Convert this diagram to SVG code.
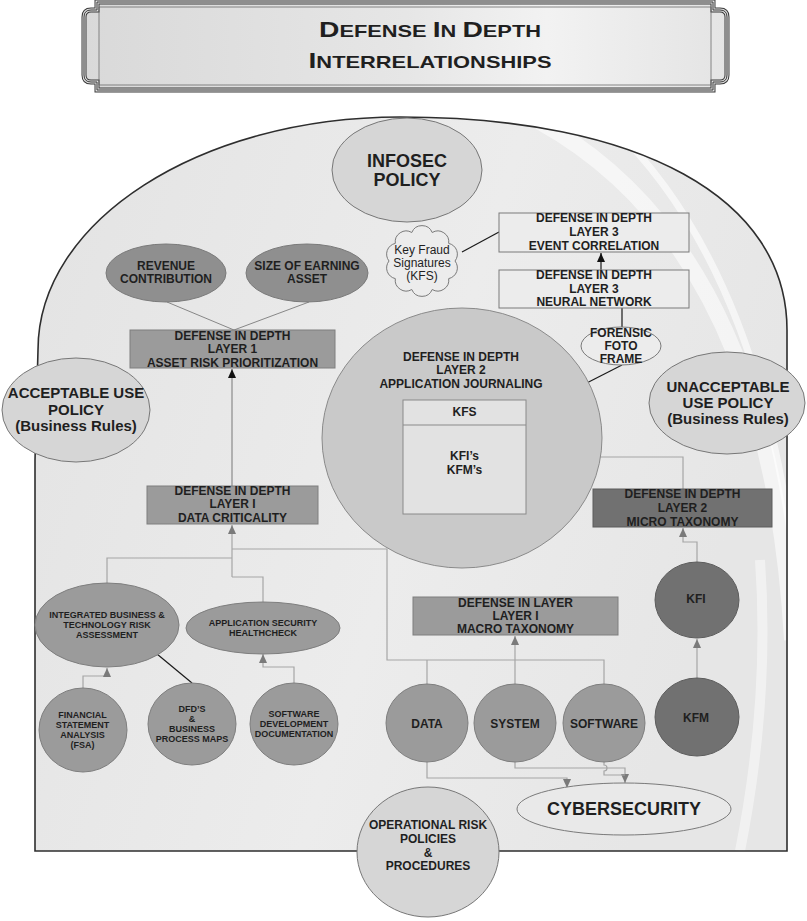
<svg xmlns="http://www.w3.org/2000/svg" width="807" height="921" viewBox="0 0 807 921">
<defs>
<style>
text { font-family: "Liberation Sans", Arial, Helvetica, sans-serif; font-weight: bold; fill: #1f1f1f; text-anchor: middle; }
.f12 { font-size: 12px; }
.f9 { font-size: 9px; }
.f15 { font-size: 15px; }
.f18 { font-size: 18px; }
.n { font-weight: normal; }
.g { fill: none; stroke: #a6a6a6; stroke-width: 1.2; }
.k { fill: none; stroke: #1a1a1a; stroke-width: 1.2; }
.thin { fill: none; stroke: #7c7c7c; stroke-width: 0.9; }
.mid { fill: #9b9b9b; stroke: #7e7e7e; stroke-width: 1; }
.midE { fill: #8f8f8f; stroke: #7a7a7a; stroke-width: 1; }
.dark { fill: #717171; stroke: #5c5c5c; stroke-width: 1; }
.light { fill: #d6d6d6; stroke: #777; stroke-width: 1; }
.pale { fill: #ececec; stroke: #7a7a7a; stroke-width: 1; }
</style>
<marker id="ag" markerWidth="9" markerHeight="8" refX="9" refY="4" orient="auto" markerUnits="userSpaceOnUse"><path d="M0,0 L9,4 L0,8 Z" fill="#7a7a7a"/></marker>
<marker id="ab" markerWidth="9" markerHeight="8" refX="9" refY="4" orient="auto" markerUnits="userSpaceOnUse"><path d="M0,0 L9,4 L0,8 Z" fill="#111"/></marker>
<linearGradient id="domeG" x1="0" y1="0" x2="1" y2="0.3">
<stop offset="0" stop-color="#e3e3e3"/>
<stop offset="0.6" stop-color="#ececec"/>
<stop offset="1" stop-color="#e6e6e6"/>
</linearGradient>
<linearGradient id="banG" x1="0" y1="0" x2="1" y2="0">
<stop offset="0" stop-color="#d9d9d9"/>
<stop offset="0.5" stop-color="#e6e6e6"/>
<stop offset="0.72" stop-color="#f2f2f2"/>
<stop offset="1" stop-color="#e4e4e4"/>
</linearGradient>
<clipPath id="domeClip"><path d="M35,851 L35,460 L38,350 C38,221 200,117 400,117 C640,117 787,198 787,330 L787,851 Z"/></clipPath>
</defs>

<g id="title-banner">
<path d="M97,2 H713 V10 H720 Q727,10 727,17 V75 Q727,82 720,82 H713 V90 H97 V82 H91 Q84,82 84,75 V17 Q84,10 91,10 H97 Z" fill="url(#banG)" stroke="#3a3a3a" stroke-width="5"/>
<path d="M97,2 H713 V10 H720 Q727,10 727,17 V75 Q727,82 720,82 H713 V90 H97 V82 H91 Q84,82 84,75 V17 Q84,10 91,10 H97 Z" fill="none" stroke="#e2e2e2" stroke-width="3"/>
<path d="M97,2 H713 V10 H720 Q727,10 727,17 V75 Q727,82 720,82 H713 V90 H97 V82 H91 Q84,82 84,75 V17 Q84,10 91,10 H97 Z" fill="none" stroke="#3a3a3a" stroke-width="1"/>
<path d="M99,7 H711 M99,85 H711 M99,7 V85 M711,7 V85" fill="none" stroke="#6a6a6a" stroke-width="0.8"/>
<text x="430" y="37" textLength="222" lengthAdjust="spacingAndGlyphs"><tspan font-size="22">D</tspan><tspan font-size="17">EFENSE </tspan><tspan font-size="22">I</tspan><tspan font-size="17">N </tspan><tspan font-size="22">D</tspan><tspan font-size="17">EPTH</tspan></text>
<text x="430" y="68" textLength="243" lengthAdjust="spacingAndGlyphs"><tspan font-size="22">I</tspan><tspan font-size="17">NTERRELATIONSHIPS</tspan></text>
</g>

<g id="dome">
<path d="M35,851 L35,460 L38,350 C38,221 200,117 400,117 C640,117 787,198 787,330 L787,851 Z" fill="url(#domeG)"/>
<g clip-path="url(#domeClip)" fill="none" stroke="#ffffff">
<path d="M540,122 Q770,250 792,640" stroke-width="16" opacity="0.55"/>
<path d="M610,124 Q795,300 805,720" stroke-width="7" opacity="0.6"/>
<path d="M760,560 Q770,700 740,851" stroke-width="10" opacity="0.45"/>
</g>
<path d="M35,851 L35,460 L38,350 C38,221 200,117 400,117 C640,117 787,198 787,330 L787,851 Z" fill="none" stroke="#2e2e2e" stroke-width="1.6"/>
</g>

<g id="connectors">
<path class="thin" d="M167,302 L234,330"/>
<path class="thin" d="M309,302 L234,330"/>
<path d="M232,486 L232,369" fill="none" stroke="#8a8a8a" stroke-width="1.2" marker-end="url(#ab)"/>
<path class="g" d="M232,577 L232,525" marker-end="url(#ag)"/>
<path class="g" d="M107,583 L107,558 L232,558"/>
<path class="g" d="M263,602 L263,577 L232,577"/>
<path class="g" d="M232,549 L387,549 L387,660 L604,660 L604,685"/>
<path class="g" d="M427,685 L427,660"/>
<path class="g" d="M515,685 L515,636" marker-end="url(#ag)"/>
<path class="g" d="M83,688 L83,676 L107,676 L107,668" marker-end="url(#ag)"/>
<path class="g" d="M294,683 L294,667 L263,667 L263,654" marker-end="url(#ag)"/>
<path class="g" d="M697,679 L697,639" marker-end="url(#ag)"/>
<path class="g" d="M697,562 L697,542 L683,542 L683,528" marker-end="url(#ag)"/>
<path class="g" d="M683,489 L683,457 L527,457" marker-end="url(#ag)"/>
<path class="g" d="M427,762 L427,778 L567,778 L567,788" marker-end="url(#ag)"/>
<path class="g" d="M515,762 L515,768 L625,768 L625,783" marker-end="url(#ag)"/>
<path class="g" d="M604,762 L604,765 A3,3 0 0 1 604,771 L604,775 L625,775"/>
<path d="M601,270 L601,253" fill="none" stroke="#1a1a1a" stroke-width="1.2" marker-end="url(#ab)"/>
<path class="k" d="M622,308 L622,328"/>
<path class="k" d="M622,365 L526,414"/>
<path class="k" d="M462,252 L499,232"/>
<path class="k" d="M157,654 L192,683"/>
</g>

<g id="infosec-policy">
<ellipse cx="407" cy="170" rx="75" ry="52" class="light" fill="#d0d0d0"/>
<text class="f18" x="407" y="167">INFOSEC</text>
<text class="f18" x="407" y="186">POLICY</text>
</g>

<g id="key-fraud-signatures">
<path class="pale" d="M455,261 A11,11 0 0 1 448.7,278.6 A11,11 0 0 1 432.2,289.5 A11,11 0 0 1 411.8,289.5 A11,11 0 0 1 395.3,278.6 A11,11 0 0 1 389,261 A11,11 0 0 1 395.3,243.4 A11,11 0 0 1 411.8,232.5 A11,11 0 0 1 432.2,232.5 A11,11 0 0 1 448.7,243.4 A11,11 0 0 1 455,261 Z"/>
<text class="f12 n" x="422" y="254">Key Fraud</text>
<text class="f12 n" x="422" y="267">Signatures</text>
<text class="f12 n" x="422" y="280">(KFS)</text>
</g>

<g id="layer3-event-correlation">
<rect x="499" y="213" width="190" height="39" class="pale"/>
<text class="f12" x="594" y="222">DEFENSE IN DEPTH</text>
<text class="f12" x="594" y="236">LAYER 3</text>
<text class="f12" x="594" y="249.5">EVENT CORRELATION</text>
</g>

<g id="layer3-neural-network">
<rect x="499" y="270" width="190" height="38" class="pale"/>
<text class="f12" x="594" y="279">DEFENSE IN DEPTH</text>
<text class="f12" x="594" y="292.5">LAYER 3</text>
<text class="f12" x="594" y="306">NEURAL NETWORK</text>
</g>

<g id="forensic-foto-frame">
<ellipse cx="621" cy="346" rx="40" ry="19" class="pale"/>
<text class="f12" x="621" y="337">FORENSIC</text>
<text class="f12" x="621" y="350">FOTO</text>
<text class="f12" x="621" y="363">FRAME</text>
</g>

<g id="revenue-contribution">
<ellipse cx="166" cy="273" rx="60" ry="29" class="midE"/>
<text class="f12" x="166" y="270">REVENUE</text>
<text class="f12" x="166" y="283">CONTRIBUTION</text>
</g>

<g id="size-of-earning-asset">
<ellipse cx="307" cy="273" rx="61" ry="29" class="midE"/>
<text class="f12" x="307" y="270">SIZE OF EARNING</text>
<text class="f12" x="307" y="283">ASSET</text>
</g>

<g id="layer1-asset-risk">
<rect x="130" y="330" width="205" height="38" class="mid"/>
<text class="f12" x="232.5" y="340">DEFENSE IN DEPTH</text>
<text class="f12" x="232.5" y="353">LAYER 1</text>
<text class="f12" x="232.5" y="366.5">ASSET RISK PRIORITIZATION</text>
</g>

<g id="acceptable-use-policy">
<ellipse cx="76" cy="410" rx="74" ry="52" class="light"/>
<text class="f15" x="76" y="398">ACCEPTABLE USE</text>
<text class="f15" x="76" y="415">POLICY</text>
<text class="f15" x="76" y="431">(Business Rules)</text>
</g>

<g id="layer2-application-journaling">
<ellipse cx="462" cy="438" rx="140" ry="130" fill="#c9c9c9" stroke="#8a8a8a" stroke-width="1"/>
<text class="f12" x="461" y="361">DEFENSE IN DEPTH</text>
<text class="f12" x="461" y="374">LAYER 2</text>
<text class="f12" x="461" y="387.5">APPLICATION JOURNALING</text>
</g>

<g id="kfs-box">
<rect x="403" y="400" width="123" height="114" fill="#e2e2e2" stroke="#8a8a8a" stroke-width="1"/>
<line x1="403" y1="425" x2="526" y2="425" stroke="#8a8a8a" stroke-width="1"/>
<text class="f12" x="464.5" y="416">KFS</text>
<text class="f12" x="464.5" y="460">KFI’s</text>
<text class="f12" x="464.5" y="473.5">KFM’s</text>
</g>

<g id="unacceptable-use-policy">
<ellipse cx="727" cy="403" rx="78" ry="51" class="light"/>
<text class="f15" x="728" y="392">UNACCEPTABLE</text>
<text class="f15" x="728" y="408">USE POLICY</text>
<text class="f15" x="728" y="424">(Business Rules)</text>
</g>

<g id="layer1-data-criticality">
<rect x="147" y="486" width="171" height="38" class="mid"/>
<text class="f12" x="232.5" y="495">DEFENSE IN DEPTH</text>
<text class="f12" x="232.5" y="508">LAYER I</text>
<text class="f12" x="232.5" y="521.5">DATA CRITICALITY</text>
</g>

<g id="layer2-micro-taxonomy">
<rect x="593" y="489" width="179" height="38" class="dark"/>
<text class="f12" x="682.5" y="498">DEFENSE IN DEPTH</text>
<text class="f12" x="682.5" y="512">LAYER 2</text>
<text class="f12" x="682.5" y="526">MICRO TAXONOMY</text>
</g>

<g id="kfi">
<ellipse cx="697" cy="600" rx="42" ry="38" class="dark"/>
<text class="f12" x="696" y="603">KFI</text>
</g>

<g id="kfm">
<ellipse cx="697" cy="717" rx="42" ry="39" class="dark"/>
<text class="f12" x="696" y="722">KFM</text>
</g>

<g id="integrated-risk-assessment">
<ellipse cx="107" cy="625" rx="72" ry="42" class="mid"/>
<text class="f9" x="107" y="618">INTEGRATED BUSINESS &amp;</text>
<text class="f9" x="107" y="628">TECHNOLOGY RISK</text>
<text class="f9" x="107" y="638">ASSESSMENT</text>
</g>

<g id="application-security-healthcheck">
<ellipse cx="263" cy="628" rx="77" ry="26" class="mid"/>
<text class="f9" x="263" y="626">APPLICATION SECURITY</text>
<text class="f9" x="263" y="636">HEALTHCHECK</text>
</g>

<g id="layer1-macro-taxonomy">
<rect x="413" y="597" width="205" height="38" class="mid"/>
<text class="f12" x="515.5" y="607">DEFENSE IN LAYER</text>
<text class="f12" x="515.5" y="620">LAYER I</text>
<text class="f12" x="515.5" y="633">MACRO TAXONOMY</text>
</g>

<g id="financial-statement-analysis">
<ellipse cx="83" cy="730" rx="44" ry="42" class="mid"/>
<text class="f9" x="82.5" y="718">FINANCIAL</text>
<text class="f9" x="82.5" y="728">STATEMENT</text>
<text class="f9" x="82.5" y="738">ANALYSIS</text>
<text class="f9" x="82.5" y="748">(FSA)</text>
</g>

<g id="dfds-business-process-maps">
<ellipse cx="192" cy="724" rx="44" ry="41" class="mid"/>
<text class="f9" x="192" y="712">DFD’S</text>
<text class="f9" x="192" y="722">&amp;</text>
<text class="f9" x="192" y="732">BUSINESS</text>
<text class="f9" x="192" y="742">PROCESS MAPS</text>
</g>

<g id="software-development-documentation">
<ellipse cx="294" cy="724" rx="44" ry="41" class="mid"/>
<text class="f9" x="294" y="717">SOFTWARE</text>
<text class="f9" x="294" y="727">DEVELOPMENT</text>
<text class="f9" x="294" y="737">DOCUMENTATION</text>
</g>

<g id="data">
<ellipse cx="427" cy="723" rx="41" ry="39" class="mid"/>
<text class="f12" x="427" y="727.5">DATA</text>
</g>

<g id="system">
<ellipse cx="515" cy="723" rx="41" ry="39" class="mid"/>
<text class="f12" x="515" y="727.5">SYSTEM</text>
</g>

<g id="software">
<ellipse cx="604" cy="723" rx="41" ry="39" class="mid"/>
<text class="f12" x="604" y="727.5">SOFTWARE</text>
</g>

<g id="cybersecurity">
<ellipse cx="624" cy="809" rx="107" ry="26" fill="#e9e9e9" stroke="#7a7a7a" stroke-width="1"/>
<text class="f18" x="624" y="815">CYBERSECURITY</text>
</g>

<g id="operational-risk-policies">
<ellipse cx="428" cy="852" rx="71" ry="65" class="light"/>
<text class="f12" x="428" y="829">OPERATIONAL RISK</text>
<text class="f12" x="428" y="843">POLICIES</text>
<text class="f12" x="428" y="857">&amp;</text>
<text class="f12" x="428" y="870">PROCEDURES</text>
</g>
</svg>
